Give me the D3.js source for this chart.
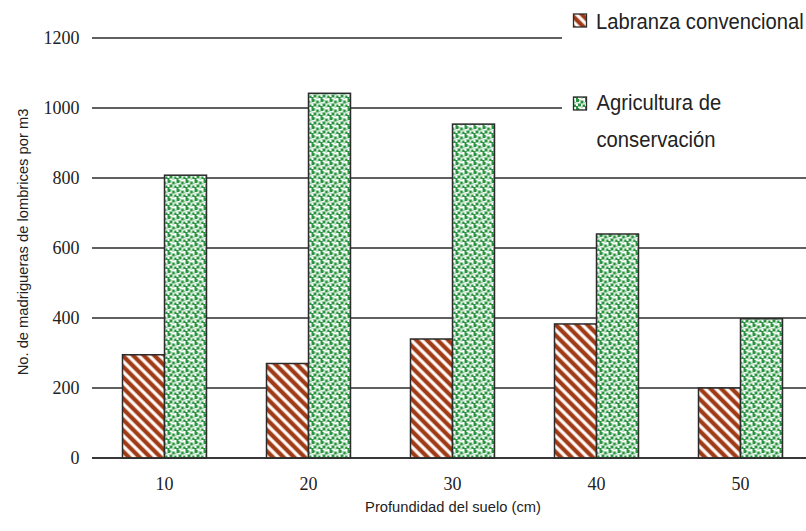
<!DOCTYPE html>
<html><head><meta charset="utf-8">
<script src="https://cdn.jsdelivr.net/npm/d3@7"></script>
<style>body{margin:0;background:#fff}svg{display:block}</style>
</head><body><svg id="c" width="806" height="531"></svg>
<script>
const categories = ["10","20","30","40","50"];
const seriesNames = ["Labranza convencional","Agricultura de conservación"];
const labranza = [295, 270, 340, 383, 200];
const agricultura = [808, 1042, 954, 640, 398];
const yTicks = [0,200,400,600,800,1000,1200];
const xTitle = "Profundidad del suelo (cm)";
const yTitle = "No. de madrigueras de lombrices por m3";

const svg = d3.select("#c");
const defs = svg.append("defs");
// red diagonal stripes
const pr = defs.append("pattern").attr("id","stripes").attr("patternUnits","userSpaceOnUse")
  .attr("width",7.5).attr("height",7.5).attr("patternTransform","rotate(-45)");
pr.append("rect").attr("width",7.5).attr("height",7.5).attr("fill","#fff");
pr.append("rect").attr("x",1.2).attr("width",5).attr("height",7.5).attr("fill","#d9a08a");
pr.append("rect").attr("x",1.9).attr("width",3.6).attr("height",7.5).attr("fill","#9e3a16");
// green confetti
const pg = defs.append("pattern").attr("id","confetti").attr("patternUnits","userSpaceOnUse")
  .attr("width",9).attr("height",9);
pg.append("rect").attr("width",9).attr("height",9).attr("fill","#fff");
[[0,0,3],[4.5,1.5,3],[2,4.5,3],[6.5,5.5,2.5],[0,7,2]].forEach(d=>{
  pg.append("rect").attr("x",d[0]).attr("y",d[1]).attr("width",d[2]).attr("height",d[2]).attr("fill","#2a9440");
});
[[3,0.5,1.4],[7.8,3,1.2],[5.2,7.5,1.4],[0.5,3.5,1.2]].forEach(d=>{
  pg.append("rect").attr("x",d[0]).attr("y",d[1]).attr("width",d[2]).attr("height",d[2]).attr("fill","#8fcc9c");
});

const x0 = d3.scaleBand().domain(categories).range([92.5,812.5]).paddingInner(0.41667).paddingOuter(0.20833);
const x1 = d3.scaleBand().domain(seriesNames).range([0,x0.bandwidth()]);
const y = d3.scaleLinear().domain([0,1200]).range([458,38]);

// gridlines
svg.append("g").selectAll("line").data(yTicks).join("line")
  .attr("x1",92).attr("x2",806).attr("y1",d=>y(d)).attr("y2",d=>y(d))
  .attr("stroke","#2b2b2b").attr("stroke-width",1.3);

// y tick labels
svg.append("g").selectAll("text").data(yTicks).join("text")
  .attr("x",79.5).attr("y",d=>y(d)).attr("dy","0.34em").attr("text-anchor","end")
  .attr("font-family","'Liberation Serif', serif").attr("font-size",18).attr("fill","#222")
  .text(d=>d);

// bars
const fills = ["url(#stripes)","url(#confetti)"];
const data = categories.map((c,i)=>({c, vals:[labranza[i], agricultura[i]]}));
const g = svg.append("g").selectAll("g").data(data).join("g")
  .attr("transform",d=>`translate(${x0(d.c)},0)`);
g.selectAll("rect").data(d=>d.vals.map((v,j)=>({v,s:seriesNames[j],j}))).join("rect")
  .attr("x",d=>x1(d.s)).attr("width",x1.bandwidth())
  .attr("y",d=>y(d.v)).attr("height",d=>y(0)-y(d.v))
  .attr("fill",d=>fills[d.j]).attr("stroke","#2b2b2b").attr("stroke-width",1.5);

// baseline redraw
svg.append("line").attr("x1",92).attr("x2",806).attr("y1",y(0)).attr("y2",y(0))
  .attr("stroke","#2b2b2b").attr("stroke-width",1.3);

// x tick labels
svg.append("g").selectAll("text").data(categories).join("text")
  .attr("x",d=>x0(d)+x0.bandwidth()/2).attr("y",490).attr("text-anchor","middle")
  .attr("font-family","'Liberation Serif', serif").attr("font-size",18).attr("fill","#222")
  .text(d=>d);

// axis titles
const sf = "'Liberation Sans',Arial,sans-serif";
svg.append("text").attr("transform","translate(453,511.5) scale(0.95,1)").attr("text-anchor","middle")
  .attr("font-family",sf).attr("font-size",15.5).attr("fill","#222").text(xTitle);
svg.append("text").attr("transform","translate(28,242) rotate(-90) scale(0.95,1)").attr("text-anchor","middle")
  .attr("font-family",sf).attr("font-size",15.5).attr("fill","#222").text(yTitle);

// legend
const lg = svg.append("g");
lg.append("rect").attr("x",562).attr("y",0).attr("width",244).attr("height",162).attr("fill","#fff");
const legY = [20.5, 103.5];
seriesNames.forEach((s,i)=>{
  lg.append("rect").attr("x",573.5).attr("y",legY[i]-6.5).attr("width",13).attr("height",13)
    .attr("fill",fills[i]).attr("stroke","#2b2b2b").attr("stroke-width",1.3);
});
lg.append("text").attr("transform","translate(596,29.3) scale(0.94,1)").attr("font-family",sf).attr("font-size",21.5)
  .attr("fill","#222").text(seriesNames[0]);
const t2 = lg.append("text").attr("transform","translate(596.5,0) scale(0.94,1)").attr("font-family",sf).attr("font-size",21.5).attr("fill","#222");
t2.append("tspan").attr("x",0).attr("y",110).text("Agricultura de");
t2.append("tspan").attr("x",0).attr("y",147.5).text("conservación");
</script></body></html>
